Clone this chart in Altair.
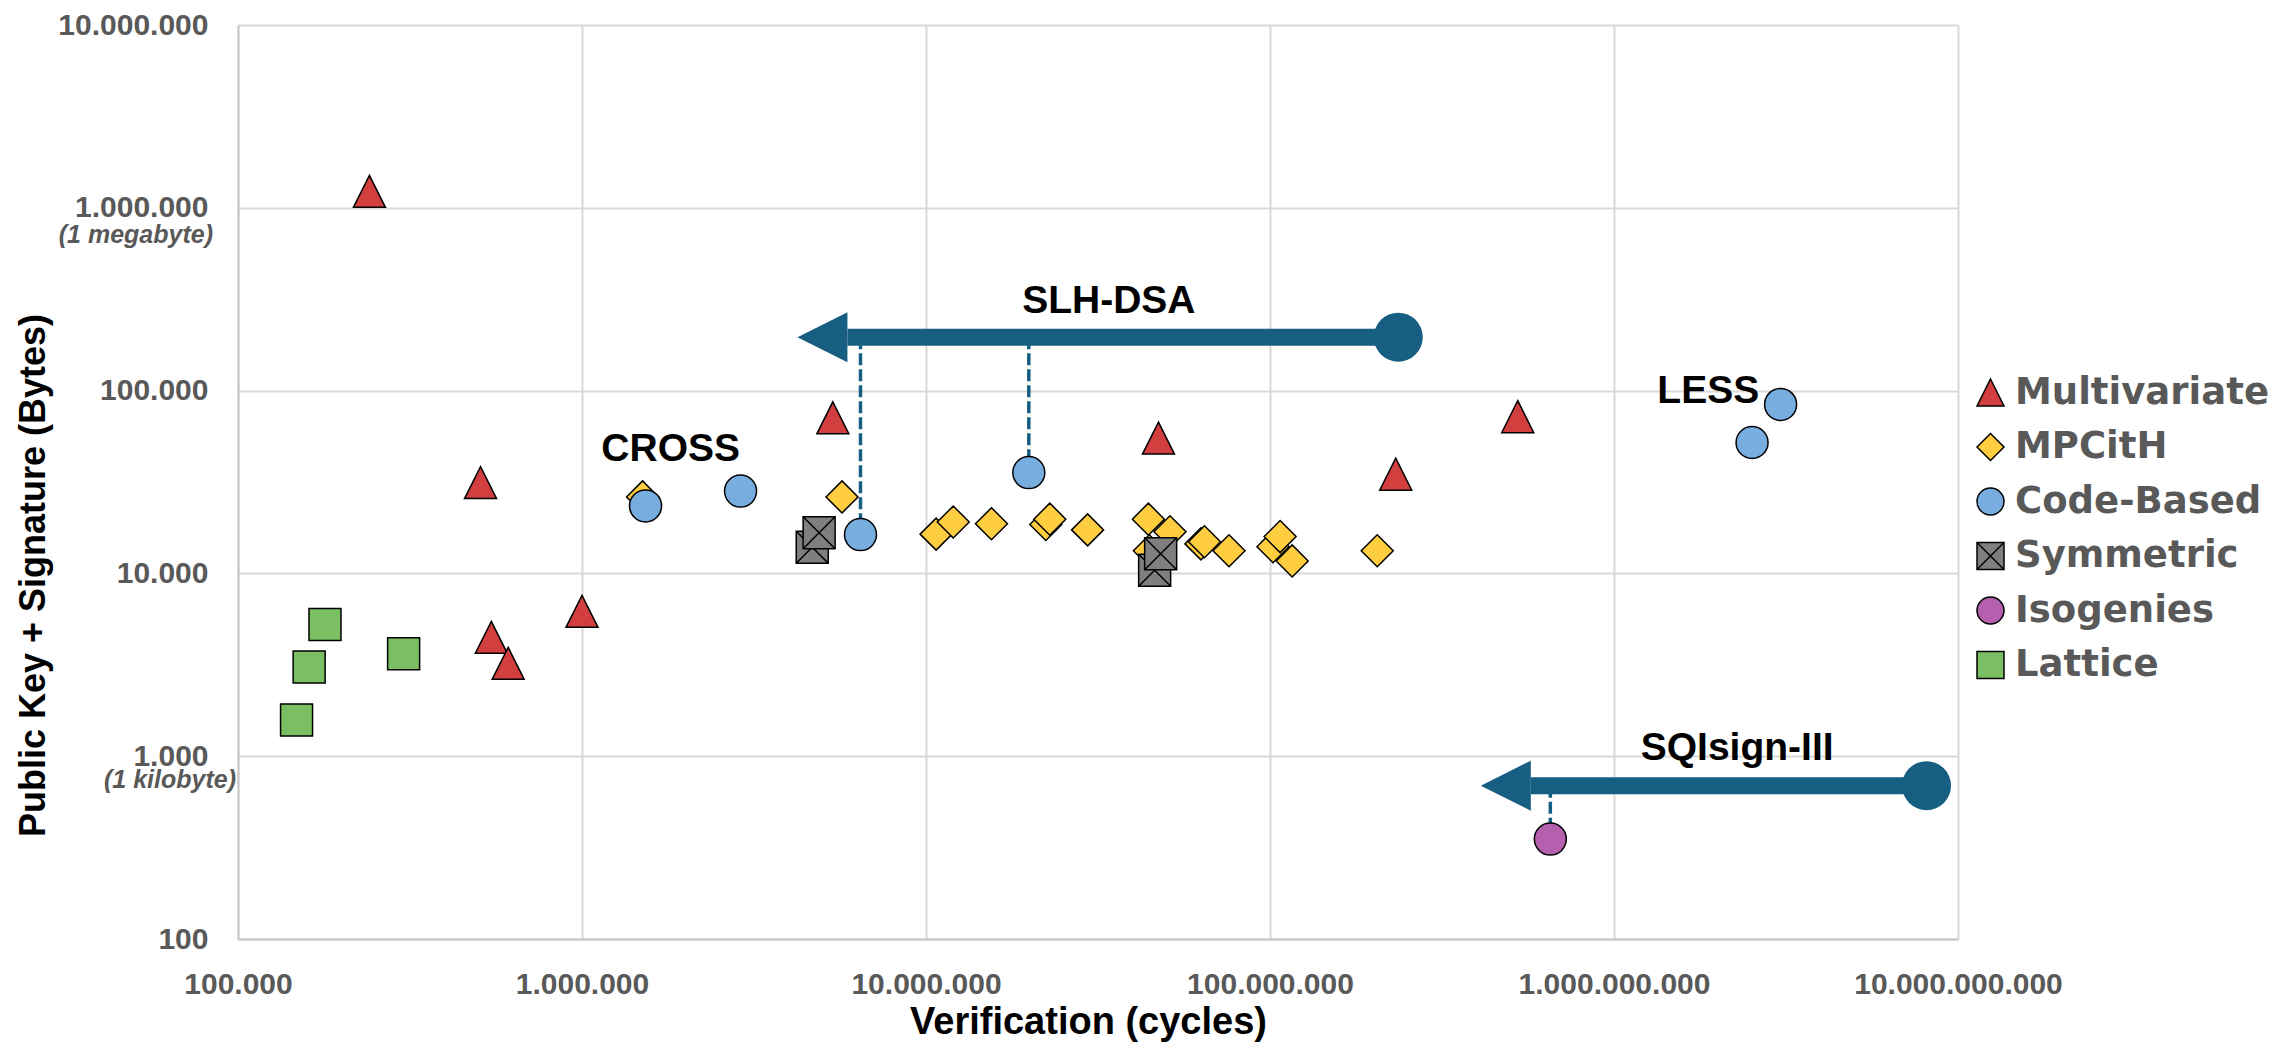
import altair as alt
import pandas as pd

# ---------------- data ----------------
families = ["Multivariate", "MPCitH", "Code-Based", "Symmetric", "Isogenies", "Lattice"]
fill_colors = ["#D13F3F", "#FFCD40", "#78ADE0", "#7F7F7F", "#B560AE", "#7BBF63"]
fill_opacities = [1.0, 1.0, 0.85, 0.8, 1.0, 1.0]

multi_x = [241e3, 507e3, 545e3, 610e3, 1.0e6, 5.36e6, 47.4e6, 232e6, 525e6]
multi_y = [1230000, 31400, 4470, 3220, 6200, 71000, 55000, 34900, 72000]

mpc_x = [1.5e6, 5.7e6, 10.7e6, 12.0e6, 15.5e6, 22.3e6, 22.9e6, 29.5e6, 44.3e6, 44.6e6,
         51.2e6, 63e6, 64.5e6, 76e6, 102e6, 107e6, 116e6, 205e6]
mpc_y = [26200, 26200, 16400, 19100, 18700, 18500, 19800, 17300, 19800, 13300,
         16900, 14500, 14900, 13300, 14000, 15900, 11700, 13300]

code_x = [1.53e6, 2.89e6, 6.45e6, 19.9e6, 2.52e9, 3.05e9]
code_y = [23400, 28200, 16300, 35600, 52000, 84000]

sym_x = [4.67e6, 4.89e6, 46.2e6, 48.1e6]
sym_y = [13900, 16700, 10400, 12800]

iso_x = [653e6]
iso_y = [352]

lattice_x = [148e3, 161e3, 179e3, 303e3]
lattice_y = [1580, 3080, 5250, 3640]

# arrows (SLH-DSA, SQIsign-III)
arrow_names = ["SLH-DSA", "SQIsign-III"]
arrow_start = [236e6, 8.1e9]
arrow_head = [5.91e6, 573e6]
arrow_level = [196000, 690]

drop_x = [6.45e6, 19.9e6, 653e6]
drop_top = [196000, 196000, 690]
drop_bottom = [16300, 35600, 352]

label_text = ["CROSS", "SLH-DSA", "LESS", "SQIsign-III"]
label_x = [1.81e6, 34.0e6, 1.88e9, 2.28e9]
label_y = [47800, 310000, 100000, 1107]

x_ticks = [1e5, 1e6, 1e7, 1e8, 1e9, 1e10]
x_tick_labels = ["100.000", "1.000.000", "10.000.000", "100.000.000", "1.000.000.000", "10.000.000.000"]
y_ticks = [1e2, 1e3, 1e4, 1e5, 1e6, 1e7]
y_tick_labels = ["100", "1.000", "10.000", "100.000", "1.000.000", "10.000.000"]

unit_text = ["(1 megabyte)", "(1 kilobyte)"]
unit_y = [1e6, 1e3]

# ---------------- tables ----------------
order = ["MPCitH", "Multivariate", "Lattice", "Code-Based", "Isogenies", "Symmetric"]
series = {
    "Multivariate": (multi_x, multi_y),
    "MPCitH": (mpc_x, mpc_y),
    "Code-Based": (code_x, code_y),
    "Symmetric": (sym_x, sym_y),
    "Isogenies": (iso_x, iso_y),
    "Lattice": (lattice_x, lattice_y),
}
rows = []
for fam in order:
    xs, ys = series[fam]
    for xv, yv in zip(xs, ys):
        rows.append({"family": fam, "cycles": xv, "bytes": yv})
points = pd.DataFrame(rows)

arrows = pd.DataFrame({"name": arrow_names, "start": arrow_start, "head": arrow_head, "level": arrow_level})
drops = pd.DataFrame({"x": drop_x, "top": drop_top, "bottom": drop_bottom})
labels = pd.DataFrame({"text": label_text, "x": label_x, "y": label_y})

ARROW = "#175F82"
TRI = "M0,-1L1,1L-1,1Z"
DIA = "M-1,0L0,-1L1,0L0,1Z"
SYM = "M-1,-1H1V1H-1Z M-1,-1L1,1 M1,-1L-1,1"
HEAD = "M0,-1L0,1L-2,0Z"
shapes = [TRI, DIA, "circle", SYM, "circle", "square"]

xscale = alt.Scale(type="log", domain=[1e5, 1e10], nice=False)
yscale = alt.Scale(type="log", domain=[1e2, 1e7], nice=False)

def js_array(lst):
    return "[" + ",".join("'" + s + "'" for s in lst) + "]"

x_axis = alt.Axis(
    values=x_ticks,
    labelExpr=js_array(x_tick_labels) + "[round(log(datum.value)/LN10) - 5]",
    title="Verification (cycles)",
    titleX=850, titleY=83, titleAlign="center", titleBaseline="middle",
    labelPadding=30, labelFlush=False, labelOverlap=False, labelLimit=500,
)
y_axis = alt.Axis(
    values=y_ticks,
    labelExpr=js_array(y_tick_labels) + "[round(log(datum.value)/LN10) - 2]",
    title="Public Key + Signature (Bytes)",
    titleX=-205, titleY=550, titleAlign="center", titleBaseline="middle", titleAngle=-90,
    titleFontSize=36,
    labelPadding=30, labelOverlap=False, labelLimit=500,
)

legend = alt.Legend(
    title=None, orient="none", legendX=1734, legendY=349,
    labelFont="DejaVu Sans", labelFontSize=37, labelFontWeight="bold", labelColor="#595959",
    labelLimit=600,
    symbolSize=729, symbolStrokeColor="black", symbolStrokeWidth=1.5,
    rowPadding=16.5, labelOffset=6, padding=0,
)

dash_layer = alt.Chart(drops).mark_rule(strokeDash=[12, 4], strokeWidth=3.5, color=ARROW).encode(
    x=alt.X("x:Q", scale=xscale, axis=x_axis),
    y=alt.Y("top:Q", scale=yscale, axis=y_axis),
    y2="bottom:Q",
)

bar_layer = alt.Chart(arrows).mark_rule(strokeWidth=17, color=ARROW, strokeCap="butt").encode(
    x=alt.X("head:Q", scale=xscale),
    x2="start:Q",
    y=alt.Y("level:Q", scale=yscale),
)

head_layer = alt.Chart(arrows).mark_point(shape=HEAD, size=2500, filled=True, color=ARROW, opacity=1, strokeWidth=0).encode(
    x=alt.X("head:Q", scale=xscale),
    y=alt.Y("level:Q", scale=yscale),
)

origin_layer = alt.Chart(arrows).mark_point(shape="circle", size=2400, filled=True, color=ARROW, opacity=1, strokeWidth=0).encode(
    x=alt.X("start:Q", scale=xscale),
    y=alt.Y("level:Q", scale=yscale),
)

point_layer = alt.Chart(points).mark_point(filled=True, size=1024, stroke="black", strokeWidth=1.5, opacity=1).encode(
    x=alt.X("cycles:Q", scale=xscale),
    y=alt.Y("bytes:Q", scale=yscale),
    color=alt.Color("family:N", scale=alt.Scale(domain=families, range=fill_colors), legend=legend),
    shape=alt.Shape("family:N", scale=alt.Scale(domain=families, range=shapes), legend=legend),
    fillOpacity=alt.FillOpacity("family:N", scale=alt.Scale(domain=families, range=fill_opacities), legend=None),
)

label_layer = alt.Chart(labels).mark_text(font="Liberation Sans", fontSize=39, fontWeight="bold", color="black",
                                          align="center", baseline="middle").encode(
    x=alt.X("x:Q", scale=xscale),
    y=alt.Y("y:Q", scale=yscale),
    text="text:N",
)

unit_mb = alt.Chart(pd.DataFrame({"t": [unit_text[0]], "v": [unit_y[0]]})).mark_text(
    font="Liberation Sans", fontSize=25, fontWeight="bold", fontStyle="italic", color="#595959",
    align="right", baseline="middle", dy=27).encode(
    x=alt.value(-25), y=alt.Y("v:Q", scale=yscale), text="t:N")
unit_kb = alt.Chart(pd.DataFrame({"t": [unit_text[1]], "v": [unit_y[1]]})).mark_text(
    font="Liberation Sans", fontSize=25, fontWeight="bold", fontStyle="italic", color="#595959",
    align="right", baseline="middle", dy=24).encode(
    x=alt.value(-2), y=alt.Y("v:Q", scale=yscale), text="t:N")

chart = alt.layer(
    dash_layer, bar_layer, head_layer, origin_layer, point_layer, label_layer, unit_mb, unit_kb
).properties(
    width=1720, height=914,
    autosize=alt.AutoSizeParams(type="none"),
    padding={"left": 230, "top": 17, "right": 320, "bottom": 106},
).configure_axis(
    labelFont="Liberation Sans", labelFontWeight="bold", labelFontSize=30, labelColor="#595959",
    titleFont="Liberation Sans", titleFontWeight="bold", titleFontSize=38, titleColor="black",
    ticks=False, grid=True, gridColor="#D9D9D9", gridWidth=2,
    domainColor="#C8C8C8", domainWidth=2,
).configure_view(stroke=None)

chart.save("out.html", embed_options={"renderer": "svg", "actions": False})
